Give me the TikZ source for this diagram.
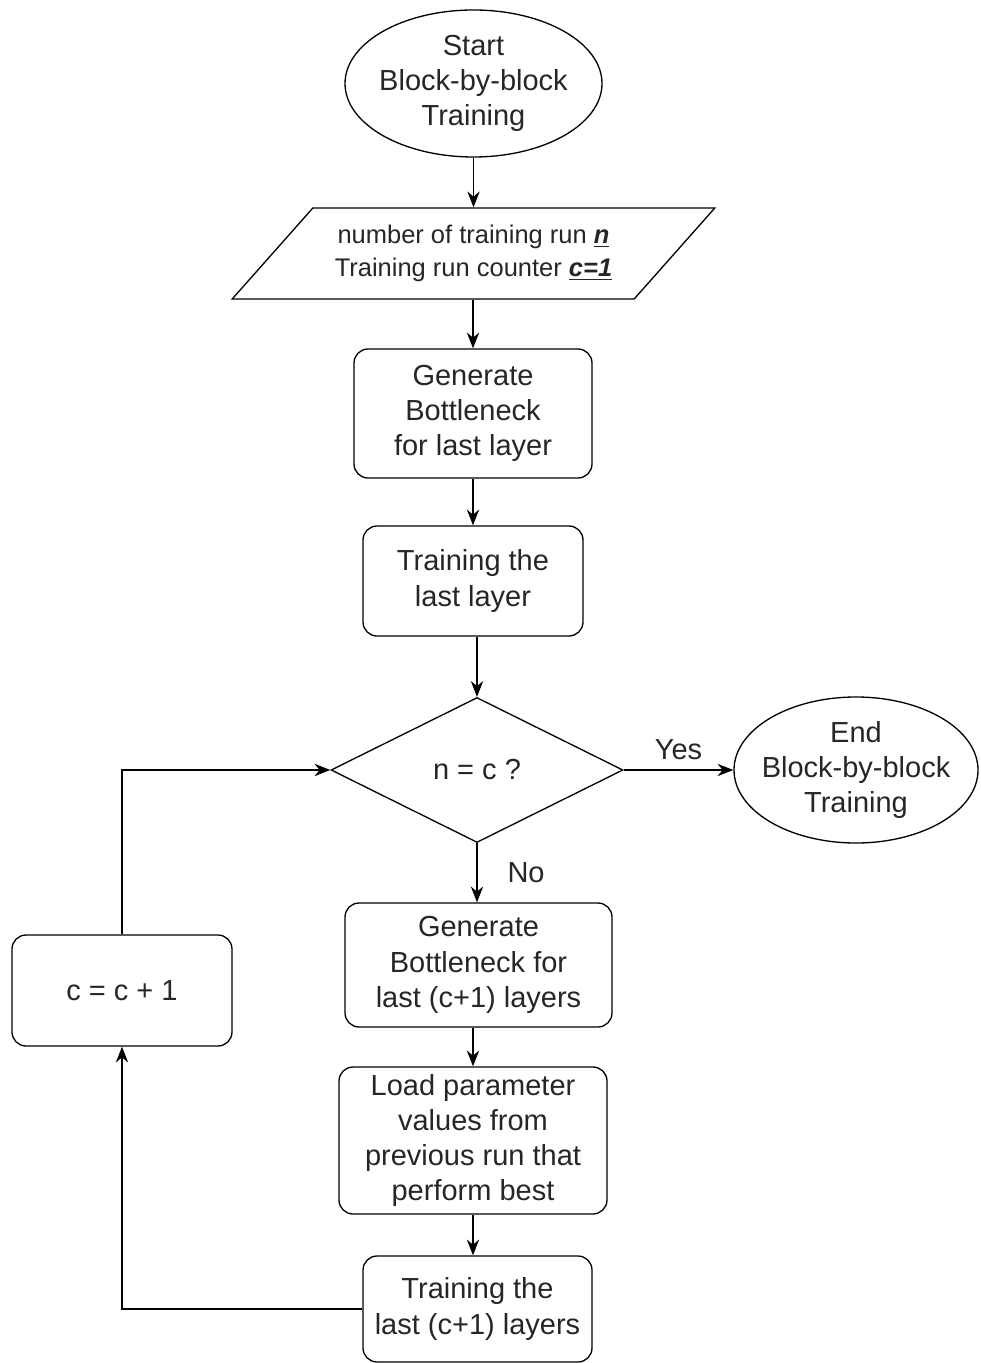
\documentclass[tikz,border=0pt]{standalone}
\usepackage{fontspec}
\setmainfont{Liberation Sans}
\definecolor{inktext}{RGB}{38,38,38}
\usetikzlibrary{positioning, arrows.meta, calc, shapes.geometric}
\tikzset{
  flowbox/.style={draw, line width=0.75pt, rounded corners=8pt, align=center, inner ysep=2pt, text=inktext, font=\fontsize{16.5}{20}\selectfont},
  termnode/.style={draw, ellipse, line width=0.75pt, align=center, inner xsep=-3mm, inner ysep=-1mm, text=inktext, font=\fontsize{16.5}{20}\selectfont},
  inbox/.style={draw, trapezium, trapezium left angle=43.5, trapezium right angle=136.5, trapezium stretches=true, line width=0.75pt, align=center, minimum width=9.66cm, minimum height=1.82cm, text=inktext, font=\fontsize{14.5}{19}\selectfont},
  choice/.style={draw, diamond, aspect=2, inner sep=0pt, line width=0.75pt, minimum width=5.84cm, minimum height=2.9cm, text=inktext, font=\fontsize{16.5}{20}\selectfont},
  wire/.style={-{Stealth[length=9pt, width=7pt]}, line width=0.75pt},
  flowlabel/.style={text=inktext, font=\fontsize{16.5}{20}\selectfont}
}

\begin{document}
\begin{tikzpicture}
  \useasboundingbox (0,0) rectangle (19.6,-27.26);
  \node[termnode, minimum width=5.14cm, minimum height=2.94cm] (start) at (9.47,-1.67) {Start\\Block-by-block\\Training};
  \node[inbox] (input) at (9.47,-5.07) {number of training run \underline{\textbf{\textit{n}}}\\Training run counter \underline{\textbf{\textit{c=1}}}};
  \node[flowbox, minimum width=4.76cm, minimum height=2.58cm] (genlast) at (9.46,-8.27) {Generate\\Bottleneck\\for last layer};
  \node[flowbox, minimum width=4.4cm, minimum height=2.2cm] (trainlast) at (9.46,-11.62) {Training the\\last layer};
  \node[choice] (check) at (9.54,-15.4) {n = c ?};
  \node[termnode, minimum width=4.88cm, minimum height=2.92cm] (stop) at (17.12,-15.4) {End\\Block-by-block\\Training};
  \node[flowbox, minimum width=5.34cm, minimum height=2.48cm] (genmore) at (9.57,-19.3) {Generate\\Bottleneck for\\last (c+1) layers};
  \node[flowbox, minimum width=5.36cm, minimum height=2.94cm] (loadbest) at (9.46,-22.81) {Load parameter\\values from\\previous run that\\perform best};
  \node[flowbox, minimum width=4.58cm, minimum height=2.12cm] (trainmore) at (9.55,-26.18) {Training the\\last (c+1) layers};
  \node[flowbox, minimum width=4.4cm, minimum height=2.22cm] (incr) at (2.44,-19.81) {c = c + 1};
  % main column
  \draw[wire] (start.south) -- (input.north -| start.south);
  \draw[wire] (input.south -| genlast.north) -- (genlast.north);
  \draw[wire] (genlast) -- (trainlast);
  \draw[wire] (trainlast.south -| check.north) -- (check.north);
  \draw[wire] (check.east) -- node[flowlabel, above=2pt]{Yes} (stop.west);
  \draw[wire] (check.south) -- node[flowlabel, right=0.48cm]{No} (check.south |- genmore.north);
  \draw[wire] (genmore.south -| loadbest.north) -- (loadbest.north);
  \draw[wire] (loadbest.south) -- (loadbest.south |- trainmore.north);
  % loop back to the check
  \draw[wire] (trainmore.west) -| (incr.south);
  \draw[wire] (incr.north) |- (check.west);
\end{tikzpicture}
\end{document}
